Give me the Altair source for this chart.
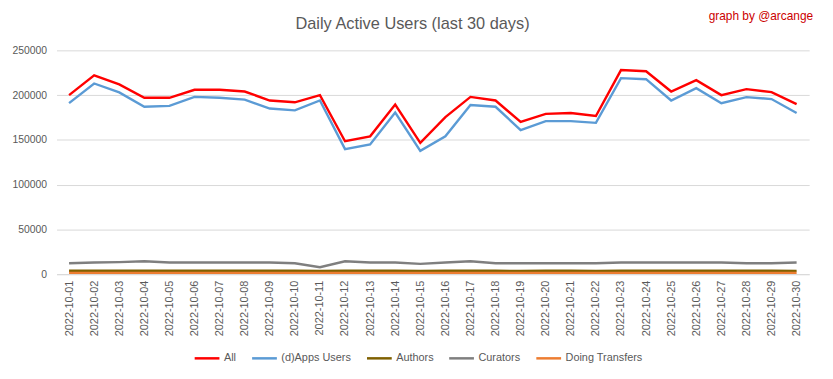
import altair as alt
import pandas as pd

dates = ["2022-10-%02d" % d for d in range(1, 31)]

series_names = ["All", "(d)Apps Users", "Authors", "Curators", "Doing Transfers"]
series_colors = ["#ff0000", "#5b9bd5", "#7f6000", "#7f7f7f", "#ed7d31"]

all_users = [200000, 222000, 212000, 197000, 197000, 206000, 206000, 204000, 194000, 192000,
             200000, 148500, 154000, 189500, 146700, 175500, 198000, 194000, 170000, 179000,
             180000, 176700, 228000, 226700, 204000, 216700, 200000, 206700, 203300, 190000]
apps_users = [191000, 213000, 203000, 187000, 188000, 198000, 197000, 195000, 185000, 183000,
              194000, 139700, 145000, 180600, 137800, 154000, 189000, 187000, 161000, 171000,
              171000, 169000, 219000, 217800, 194000, 207800, 191000, 197800, 195600, 180000]
authors = [3800, 3800, 3800, 3800, 3800, 3800, 3800, 3800, 3800, 3800,
           3700, 3800, 3800, 3800, 3700, 3800, 3800, 3800, 3700, 3800,
           3800, 3700, 3800, 3800, 3800, 3800, 3800, 3800, 3800, 3700]
curators = [12200, 13000, 13500, 14400, 13000, 13000, 13000, 13000, 13000, 12200,
            7800, 14400, 13000, 13000, 11500, 13000, 14400, 12200, 12200, 12200,
            12200, 12200, 13000, 13000, 13000, 13000, 13000, 12200, 12200, 13000]
transfers = [1500, 1500, 1500, 1500, 1500, 1500, 1500, 1500, 1500, 1500,
             1400, 1500, 1500, 1500, 1400, 1500, 1500, 1500, 1400, 1500,
             1500, 1400, 1500, 1500, 1500, 1500, 1500, 1500, 1500, 1400]

y_ticks = [0, 50000, 100000, 150000, 200000, 250000]
title_text = "Daily Active Users (last 30 days)"
credit_text = "graph by @arcange"

rows = []
for name, vals in zip(series_names, [all_users, apps_users, authors, curators, transfers]):
    for d, v in zip(dates, vals):
        rows.append({"date": d, "series": name, "value": v})
df = pd.DataFrame(rows)

FONT = "Liberation Sans"
GRAY = "#595959"

lines = alt.Chart(df).mark_line(strokeWidth=2.4).encode(
    x=alt.X("date:O", sort=dates,
            axis=alt.Axis(title=None, labelAngle=270, labelFontSize=11, labelColor=GRAY,
                          labelFont=FONT, ticks=False, domainColor="#d9d9d9",
                          labelPadding=6, grid=False)),
    y=alt.Y("value:Q", scale=alt.Scale(domain=[0, 250000]),
            axis=alt.Axis(title=None, values=y_ticks, format="d", labelFontSize=10.5,
                          labelColor=GRAY, labelFont=FONT, ticks=False, domain=False,
                          gridColor="#d9d9d9", labelPadding=10)),
    color=alt.Color("series:N", sort=series_names,
                    scale=alt.Scale(domain=series_names, range=series_colors),
                    legend=alt.Legend(title=None, orient="none", direction="horizontal",
                                      legendX=138, legendY=297, symbolType="stroke",
                                      symbolSize=625, symbolStrokeWidth=2.5,
                                      labelFontSize=11, labelColor=GRAY, labelFont=FONT,
                                      labelOffset=3, columnPadding=10)),
    order=alt.Order("date:O"),
)

title = alt.Chart(pd.DataFrame({"t": [title_text]})).mark_text(
    align="center", baseline="middle", fontSize=16.5, font=FONT, color=GRAY
).encode(text="t:N", x=alt.value(359.5), y=alt.value(-27))

credit = alt.Chart(pd.DataFrame({"t": [credit_text]})).mark_text(
    align="right", baseline="middle", fontSize=12, font=FONT, color="#cc0000"
).encode(text="t:N", x=alt.value(764), y=alt.value(-35))

chart = alt.layer(lines, title, credit).properties(
    width=760, height=226,
    autosize=alt.AutoSizeParams(type="none"),
    padding={"left": 49, "top": 41, "right": 16, "bottom": 96},
).configure_view(strokeWidth=0)

chart.save("out.html", embed_options={"renderer": "svg", "actions": False})
